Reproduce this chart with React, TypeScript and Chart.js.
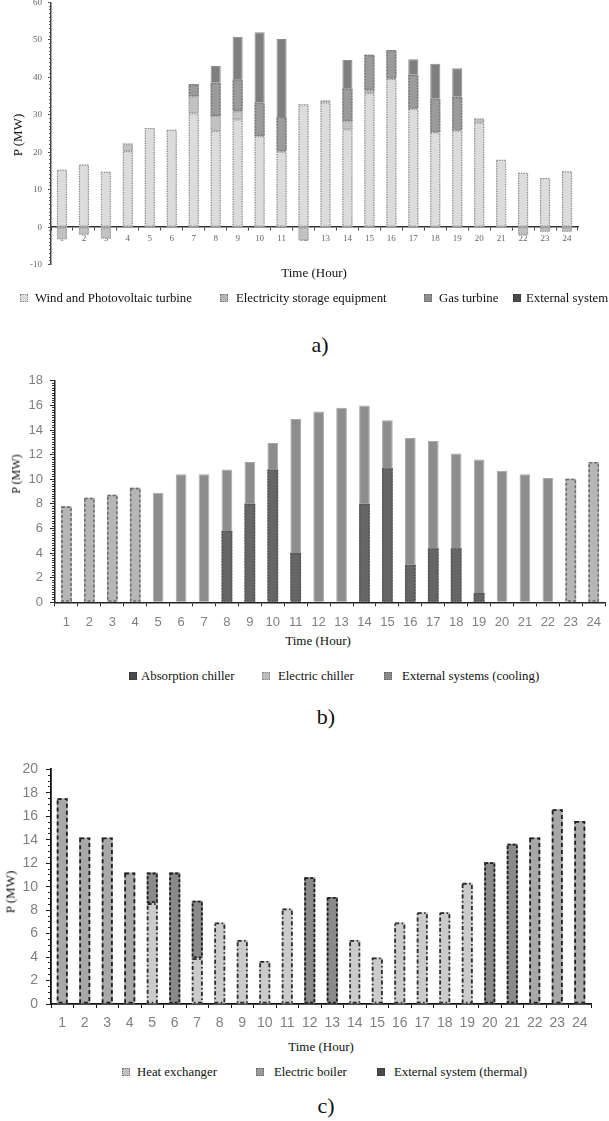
import React, { useEffect, useRef } from "react";
import { Chart, registerables } from "chart.js";

Chart.register(...registerables);

// ---------- shared categories ----------
const hours = ["1", "2", "3", "4", "5", "6", "7", "8", "9", "10", "11", "12", "13", "14", "15", "16", "17", "18", "19", "20", "21", "22", "23", "24"];

// ---------- a) electricity ----------
const labelsA = ["Wind and Photovoltaic turbine", "Electricity storage equipment", "Gas turbine", "External system"];
const windPV = [15.3, 16.7, 14.8, 20.3, 26.5, 26, 30.4, 25.7, 28.8, 24.3, 20.2, 32.8, 33.3, 26.1, 35.8, 39.6, 31.6, 25.3, 25.8, 27.9, 18, 14.5, 13.1, 14.9];
const storageA = [-3.2, -2, -3, 2, 0, 0, 4.5, 4, 2.2, 0, 0, -3.5, 0.5, 2.2, 0.7, 0, 0, 0, 0, 1.1, 0, -2.1, -1.2, -1.2];
const gasTurbine = [0, 0, 0, 0, 0, 0, 3.3, 8.9, 8.5, 9, 9.2, 0, 0, 8.8, 9.5, 7.7, 9.1, 9, 9, 0, 0, 0, 0, 0];
const externalA = [0, 0, 0, 0, 0, 0, 0, 4.4, 11.3, 18.7, 20.8, 0, 0, 7.5, 0, 0, 4.1, 9.3, 7.6, 0, 0, 0, 0, 0];
const ticksA = { min: -10, max: 60, step: 10 };

// ---------- b) cooling ----------
const labelsB = ["Absorption chiller", "Electric chiller", "External systems (cooling)"];
const absorption = [0, 0, 0, 0, 0, 0, 0, 5.8, 8.0, 10.8, 4.0, 0, 0, 8.0, 10.9, 3.05, 4.4, 4.4, 0.75, 0, 0, 0, 0, 0];
const electricChiller = [7.8, 8.5, 8.75, 9.3, 0, 0, 0, 0, 0, 0, 0, 0, 0, 0, 0, 0, 0, 0, 0, 0, 0, 0, 10.05, 11.4];
const externalCooling = [0, 0, 0, 0, 8.9, 10.4, 10.4, 5.0, 3.4, 2.15, 10.9, 15.5, 15.8, 8.0, 3.9, 10.3, 8.7, 7.7, 10.85, 10.7, 10.4, 10.1, 0, 0];
const ticksB = { min: 0, max: 18, step: 2 };

// ---------- c) thermal ----------
const labelsC = ["Heat exchanger", "Electric boiler", "External system (thermal)"];
const heatExchanger = [0, 0, 0, 0, 8.6, 0, 3.9, 6.95, 5.45, 3.66, 8.14, 0, 0, 5.45, 3.97, 6.95, 7.83, 7.83, 10.33, 0, 0, 0, 0, 0];
const electricBoiler = [17.55, 14.2, 14.2, 11.2, 0, 0, 0, 0, 0, 0, 0, 0, 0, 0, 0, 0, 0, 0, 0, 0, 0, 14.2, 16.6, 15.6];
const externalThermal = [0, 0, 0, 0, 2.6, 11.2, 4.9, 0, 0, 0, 0, 10.8, 9.13, 0, 0, 0, 0, 0, 0, 12.09, 13.67, 0, 0, 0];
const ticksC = { min: 0, max: 20, step: 2 };

const serif = "'Liberation Serif', 'Times New Roman', serif";
const sans = "'Liberation Sans', Arial, sans-serif";

type Outline = { color: string; width: number; dash: number[] } | null;

// draws dashed / dotted outlines on bars using the bar elements' own geometry
function makeOutlinePlugin(styles: Outline[]) {
  return {
    id: "barOutline",
    afterDatasetsDraw(chart: any) {
      const ctx = chart.ctx;
      chart.data.datasets.forEach((ds: any, di: number) => {
        const st = styles[di];
        if (!st) return;
        const meta = chart.getDatasetMeta(di);
        meta.data.forEach((el: any, i: number) => {
          const v = ds.data[i];
          if (!v) return;
          const p = el.getProps(["x", "y", "base", "width"], true);
          const left = p.x - p.width / 2;
          const top = Math.min(p.y, p.base);
          const h = Math.abs(p.base - p.y);
          const lw = st.width / 2;
          ctx.save();
          ctx.strokeStyle = st.color;
          ctx.lineWidth = st.width;
          ctx.setLineDash(st.dash.slice());
          ctx.strokeRect(left + lw, top + lw, p.width - 2 * lw, Math.max(0, h - 2 * lw));
          ctx.restore();
        });
      });
    },
  };
}

function minorAxis(min: number, max: number, limit: number, tl: number, color: string) {
  return {
    type: "linear",
    position: "left",
    min,
    max,
    weight: 0,
    afterFit: (s: any) => {
      s.width = 0;
    },
    ticks: { display: false, maxTicksLimit: limit, font: { size: 2 } },
    grid: { drawOnChartArea: false, tickLength: tl, color, lineWidth: 1 },
    border: { display: false },
  };
}

function configA(): any {
  return {
    type: "bar",
    data: {
      labels: hours,
      datasets: [
        { label: labelsA[0], data: windPV, backgroundColor: "#dcdcdc", stack: "s" },
        { label: labelsA[1], data: storageA, backgroundColor: "#c2c2c2", stack: "s" },
        { label: labelsA[2], data: gasTurbine, backgroundColor: "#9b9b9b", stack: "s" },
        { label: labelsA[3], data: externalA, backgroundColor: "#7f7f7f", borderColor: "#8c8c8c", borderWidth: 1, stack: "s" },
      ],
    },
    options: {
      animation: false,
      responsive: true,
      maintainAspectRatio: false,
      layout: { padding: { top: 10, bottom: 8, left: 0, right: 31 } },
      datasets: { bar: { barPercentage: 0.46, categoryPercentage: 1 } },
      plugins: { legend: { display: false }, tooltip: { enabled: false } },
      scales: {
        x: {
          stacked: true,
          position: { y: 0 },
          z: 1,
          afterFit: (s: any) => {
            s.height = 0;
          },
          grid: { drawOnChartArea: false, drawTicks: true, tickLength: 3, color: "#444", offset: true },
          border: { display: true, color: "#333", width: 1.5 },
          ticks: { font: { family: serif, size: 9 }, color: "#666", padding: 3, maxRotation: 0, autoSkip: false },
        },
        y: {
          stacked: true,
          min: ticksA.min,
          max: ticksA.max,
          weight: 1,
          afterFit: (s: any) => {
            s.width = 51;
          },
          ticks: { stepSize: ticksA.step, font: { family: serif, size: 9 }, color: "#666", padding: 6 },
          grid: { drawOnChartArea: false, tickLength: 3, color: "#444" },
          border: { color: "#444", width: 1.5 },
        },
        yMinor: minorAxis(ticksA.min, ticksA.max, 100, 2, "#666"),
      },
    },
    plugins: [
      makeOutlinePlugin([
        { color: "#8a8a8a", width: 1.2, dash: [1.2, 1.3] },
        { color: "#9a9a9a", width: 1.2, dash: [1.2, 1.3] },
        { color: "#7a7a7a", width: 1.6, dash: [1.5, 1.5] },
        null,
      ]),
    ],
  };
}

function configB(): any {
  return {
    type: "bar",
    data: {
      labels: hours,
      datasets: [
        { label: labelsB[0], data: absorption, backgroundColor: "#666666", stack: "s" },
        { label: labelsB[1], data: electricChiller, backgroundColor: "#b6b6b6", stack: "s" },
        { label: labelsB[2], data: externalCooling, backgroundColor: "#8d8d8d", borderColor: "#a9a9a9", borderWidth: 1, stack: "s" },
      ],
    },
    options: {
      animation: false,
      responsive: true,
      maintainAspectRatio: false,
      layout: { padding: { top: 10, bottom: 0, left: 0, right: 3 } },
      datasets: { bar: { barPercentage: 0.466, categoryPercentage: 1 } },
      plugins: { legend: { display: false }, tooltip: { enabled: false } },
      scales: {
        x: {
          stacked: true,
          afterFit: (s: any) => {
            s.height = 29.7;
          },
          grid: { drawOnChartArea: false, tickLength: 4, color: "#222", offset: true },
          border: { color: "#222", width: 1.5 },
          ticks: { font: { family: sans, size: 13 }, color: "#7f7f7f", padding: 8, maxRotation: 0, autoSkip: false },
        },
        y: {
          stacked: true,
          min: ticksB.min,
          max: ticksB.max,
          weight: 1,
          afterFit: (s: any) => {
            s.width = 55;
          },
          ticks: { stepSize: ticksB.step, font: { family: sans, size: 13 }, color: "#7f7f7f", padding: 7 },
          grid: { drawOnChartArea: false, tickLength: 5, color: "#222" },
          border: { color: "#222", width: 1.5 },
        },
        yMinor: minorAxis(ticksB.min, ticksB.max, 100, 3, "#333"),
      },
    },
    plugins: [
      makeOutlinePlugin([
        { color: "#555555", width: 1.6, dash: [1.5, 1.5] },
        { color: "#6e6e6e", width: 1.6, dash: [3, 2] },
        null,
      ]),
    ],
  };
}

function configC(): any {
  return {
    type: "bar",
    data: {
      labels: hours,
      datasets: [
        { label: labelsC[0], data: heatExchanger, backgroundColor: "#cbcbcb", stack: "s" },
        { label: labelsC[1], data: electricBoiler, backgroundColor: "#a8a8a8", stack: "s" },
        { label: labelsC[2], data: externalThermal, backgroundColor: "#8a8a8a", stack: "s" },
      ],
    },
    options: {
      animation: false,
      responsive: true,
      maintainAspectRatio: false,
      layout: { padding: { top: 10, bottom: 0, left: 0, right: 18 } },
      datasets: { bar: { barPercentage: 0.49, categoryPercentage: 1 } },
      plugins: { legend: { display: false }, tooltip: { enabled: false } },
      scales: {
        x: {
          stacked: true,
          afterFit: (s: any) => {
            s.height = 30;
          },
          grid: { drawOnChartArea: false, tickLength: 4, color: "#111", offset: true },
          border: { color: "#111", width: 1.8 },
          ticks: { font: { family: sans, size: 14 }, color: "#7f7f7f", padding: 7, maxRotation: 0, autoSkip: false },
        },
        y: {
          stacked: true,
          min: ticksC.min,
          max: ticksC.max,
          weight: 1,
          afterFit: (s: any) => {
            s.width = 51;
          },
          ticks: { stepSize: ticksC.step, font: { family: sans, size: 14 }, color: "#7f7f7f", padding: 8 },
          grid: { drawOnChartArea: false, tickLength: 5, color: "#111" },
          border: { color: "#111", width: 1.8 },
        },
        yMinor: minorAxis(ticksC.min, ticksC.max, 41, 3, "#222"),
      },
    },
    plugins: [
      makeOutlinePlugin([
        { color: "#2a2a2a", width: 1.8, dash: [4, 2.5, 1.5, 2.5] },
        { color: "#1e1e1e", width: 1.8, dash: [4, 3] },
        { color: "#1e1e1e", width: 1.8, dash: [3, 2] },
      ]),
    ],
  };
}

function ChartBox({ top, height, make }: { top: number; height: number; make: () => any }) {
  const ref = useRef<HTMLCanvasElement>(null);
  useEffect(() => {
    const chart = new Chart(ref.current as HTMLCanvasElement, make());
    return () => chart.destroy();
  }, []);
  return (
    <div style={{ position: "absolute", left: 0, top, width: 609, height }}>
      <canvas ref={ref} />
    </div>
  );
}

function Txt({ x, y, size, children, rotate }: { x: number; y: number; size: number; children: any; rotate?: boolean }) {
  return (
    <div
      style={{
        position: "absolute",
        left: x,
        top: y,
        transform: `translate(-50%, -50%)${rotate ? " rotate(-90deg)" : ""}`,
        fontSize: size,
        fontFamily: serif,
        whiteSpace: "nowrap",
        lineHeight: 1,
        color: "#111",
      }}
    >
      {children}
    </div>
  );
}

function LegendItem({ mx, tx, y, label, fill, border, size }: { mx: number; tx: number; y: number; label: string; fill: string; border: string; size: number }) {
  return (
    <>
      <div
        style={{
          position: "absolute",
          left: mx,
          top: y - 4,
          width: 6,
          height: 6,
          background: fill,
          border: `1px dotted ${border}`,
        }}
      />
      <div
        style={{
          position: "absolute",
          left: tx,
          top: y,
          transform: "translateY(-50%)",
          fontSize: size,
          fontFamily: serif,
          whiteSpace: "nowrap",
          lineHeight: 1,
          color: "#111",
        }}
      >
        {label}
      </div>
    </>
  );
}

const LEG = 12.8;

export default function App() {
  return (
    <div style={{ position: "absolute", left: 0, top: 0, width: 609, height: 1121, background: "#fff", overflow: "hidden" }}>
      {/* a) */}
      <ChartBox top={-9} height={285} make={configA} />
      <Txt x={17} y={135} size={13} rotate>P (MW)</Txt>
      <Txt x={314} y={272} size={13}>Time (Hour)</Txt>
      <LegendItem mx={20} tx={35} y={298} label={labelsA[0]} fill="#dcdcdc" border="#888" size={LEG} />
      <LegendItem mx={220} tx={236} y={298} label={labelsA[1]} fill="#b5b5b5" border="#777" size={LEG} />
      <LegendItem mx={424} tx={439} y={298} label={labelsA[2]} fill="#8f8f8f" border="#666" size={LEG} />
      <LegendItem mx={513} tx={526} y={298} label={labelsA[3]} fill="#4a4a4a" border="#333" size={LEG} />
      <Txt x={320} y={345} size={22}>a)</Txt>

      {/* b) */}
      <ChartBox top={366} height={266} make={configB} />
      <Txt x={16} y={474} size={12} rotate>P (MW)</Txt>
      <Txt x={318} y={640} size={13}>Time (Hour)</Txt>
      <LegendItem mx={129} tx={141} y={676} label={labelsB[0]} fill="#4a4a4a" border="#333" size={LEG} />
      <LegendItem mx={262} tx={278} y={676} label={labelsB[1]} fill="#bdbdbd" border="#888" size={LEG} />
      <LegendItem mx={384} tx={402} y={676} label={labelsB[2]} fill="#8a8a8a" border="#666" size={LEG} />
      <Txt x={326} y={717} size={22}>b)</Txt>

      {/* c) */}
      <ChartBox top={753} height={281} make={configC} />
      <Txt x={10} y={892} size={13} rotate>P (MW)</Txt>
      <Txt x={321} y={1046} size={13}>Time (Hour)</Txt>
      <LegendItem mx={122} tx={137} y={1072} label={labelsC[0]} fill="#c0c0c0" border="#777" size={LEG} />
      <LegendItem mx={256} tx={274} y={1072} label={labelsC[1]} fill="#9a9a9a" border="#666" size={LEG} />
      <LegendItem mx={377} tx={394} y={1072} label={labelsC[2]} fill="#4a4a4a" border="#333" size={LEG} />
      <Txt x={326} y={1106} size={22}>c)</Txt>
    </div>
  );
}
